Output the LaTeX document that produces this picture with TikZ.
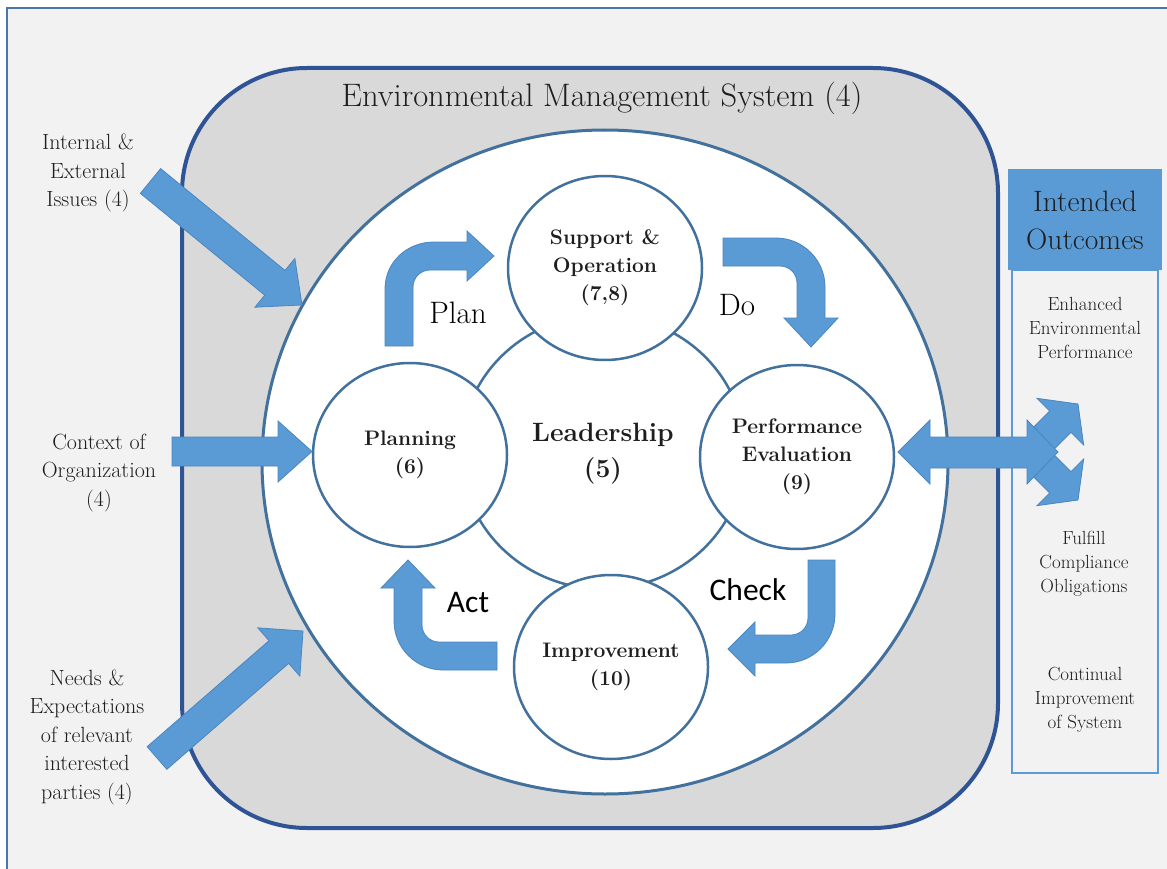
\documentclass[tikz,border=0pt]{standalone}
\usepackage{fontspec}
\newfontfamily\calibri{Carlito}
\usetikzlibrary{shapes.geometric}
\definecolor{bgcol}{HTML}{F2F2F2}
\definecolor{framecol}{HTML}{4A76AD}
\definecolor{emsfill}{HTML}{D9D9D9}
\definecolor{emsline}{HTML}{2F5496}
\definecolor{circline}{HTML}{41719C}
\definecolor{arrowfill}{HTML}{5B9BD5}
\definecolor{arrowline}{HTML}{4A86C0}
\definecolor{textcol}{HTML}{1E1E1E}
\tikzset{
  arrowbox/.style={fill=arrowfill, draw=arrowline, line width=0.8pt, line join=miter},
  stage/.style={ellipse, draw=circline, line width=2.5pt, fill=white, minimum width=194pt, minimum height=184pt, inner sep=0pt, align=center, font=\bfseries\fontsize{21}{28}\selectfont, text=textcol},
  sidetext/.style={align=center, font=\fontsize{22}{28.5}\selectfont, text=textcol},
  outtext/.style={align=center, font=\fontsize{19}{24}\selectfont, text=textcol},
  pdca/.style={anchor=base, font=\fontsize{31}{36}\selectfont, text=black},
  pdcasans/.style={anchor=base, font=\calibri\fontsize{31.5}{36}\selectfont, text=black},
}
% block arrow: tail x, tail y, tip x, tip y, shaft width, head width, head length
\newcommand{\barrow}[7]{%
  \pgfmathsetmacro{\bdx}{(#3-(#1))/10}%
  \pgfmathsetmacro{\bdy}{(#4-(#2))/10}%
  \pgfmathsetmacro{\bang}{atan2(-\bdy,\bdx)}%
  \pgfmathsetmacro{\blen}{10*sqrt(\bdx*\bdx+\bdy*\bdy)}%
  \pgfmathsetmacro{\bbase}{\blen-#7}%
  \begin{scope}[shift={(#1,#2)},rotate=\bang]
    \path[arrowbox] (0,-#5/2) -- (\bbase,-#5/2) -- (\bbase,-#6/2) -- (\blen,0) -- (\bbase,#6/2) -- (\bbase,#5/2) -- (0,#5/2) -- cycle;
  \end{scope}}
\begin{document}
\begin{tikzpicture}[x=1pt,y=-1pt]
\useasboundingbox (0,0) rectangle (1167,869);
\clip (0,0) rectangle (1167,869);
\fill[white] (0,0) rectangle (1167,869);
% outer frame
\draw[framecol, line width=2.5pt, fill=bgcol] (7,8) rectangle (1190,890);
% EMS rounded box
\draw[emsline, line width=4pt, fill=emsfill, rounded corners=125pt] (182,68) rectangle (998,828);
\node[anchor=base, font=\fontsize{32.5}{36}\selectfont, text=textcol] (title) at (602,107) {Environmental Management System (4)};
% big white circle
\draw[circline, line width=3pt, fill=white] (605,462) ellipse [x radius=343pt, y radius=332pt];
% leadership ring
\draw[circline, line width=2.5pt] (603,452) ellipse [x radius=142pt, y radius=137pt];
\node[align=center, font=\bfseries\fontsize{26.5}{36}\selectfont, text=textcol] (lead) at (603,454) {Leadership\\(5)};
% stage circles
\node[stage] (support) at (605,268) {Support \&\\Operation\\(7,8)};
\node[stage] (planning) at (410,455) {Planning\\(6)};
\node[stage] (perf) at (797,457) {Performance\\Evaluation\\(9)};
\node[stage] (improve) at (611,667) {Improvement\\(10)};
% bent arrows
\path[arrowbox] (385,346) -- (385,289) .. controls (385,262) and (407,242) .. (434,242) -- (467,242) -- (467,231) -- (494,256) -- (467,281) -- (467,270) -- (430,270) .. controls (420.6,270) and (413,277.6) .. (413,287) -- (413,346) -- cycle;
\path[arrowbox] (723,238) -- (776,238) .. controls (803,238) and (825,260) .. (825,287) -- (825,318) -- (838,318) -- (811,347) -- (784,318) -- (797,318) -- (797,283) .. controls (797,273.6) and (789.4,266) .. (780,266) -- (723,266) -- cycle;
\path[arrowbox] (808,560) -- (835,560) -- (835,614) .. controls (835,641) and (813,663) .. (786,663) -- (755,663) -- (755,676) -- (728,649) -- (755,622) -- (755,635) -- (791,635) .. controls (800.4,635) and (808,627.4) .. (808,618) -- cycle;
\path[arrowbox] (497,642) -- (439,642) .. controls (429.6,642) and (422,634.4) .. (422,625) -- (422,588) -- (435,588) -- (408,560) -- (381,588) -- (394,588) -- (394,621) .. controls (394,648) and (416,670) .. (443,670) -- (497,670) -- cycle;
\node[pdca] (plan) at (458,323) {Plan};
\node[pdca] (do) at (737,315) {Do};
\node[pdcasans] (act) at (468,612) {Act};
\node[pdcasans] (check) at (748,600) {Check};
% left inputs
\node[sidetext] (issues) at (88,173) {Internal \&\\External\\Issues (4)};
\node[sidetext] (context) at (99,473) {Context of\\Organization\\(4)};
\node[sidetext] (needs) at (87,737) {Needs \&\\Expectations\\of relevant\\interested\\parties (4)};
\barrow{150.5}{181}{302}{305}{32}{63}{35}
\barrow{172}{451.5}{312}{451.5}{29}{61}{34}
\barrow{157}{758}{303}{631}{30}{64}{32}
% intended outcomes
\fill[arrowfill] (1008,169) rectangle (1162,270);
\draw[arrowfill, line width=2pt] (1012,270) rectangle (1158,773);
\node[align=center, font=\fontsize{29.5}{38}\selectfont, text=textcol] (outcomes) at (1085,220) {Intended\\Outcomes};
\node[outtext] (enhanced) at (1085,328) {Enhanced\\Environmental\\Performance};
\node[outtext] (fulfill) at (1084,564) {Fulfill\\Compliance\\Obligations};
\node[outtext] (continual) at (1085,700) {Continual\\Improvement\\of System};
% split arrows and double arrow
\barrow{1040}{442}{1078}{404}{30}{66}{25}
\barrow{1040}{462}{1078}{500}{30}{66}{25}
\path[arrowbox] (898,452) -- (930,420) -- (930,437) -- (1027,437) -- (1027,420) -- (1058,452) -- (1027,484) -- (1027,468) -- (930,468) -- (930,484) -- cycle;
\end{tikzpicture}
\end{document}
